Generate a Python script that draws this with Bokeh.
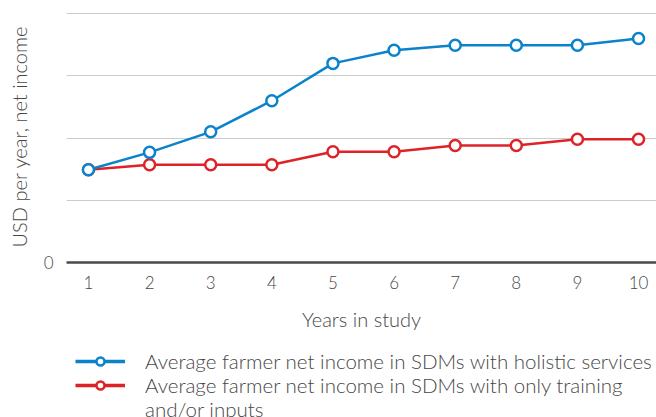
from bokeh.plotting import figure
from bokeh.models import Legend, LegendItem, Range1d, FixedTicker
from bokeh.layouts import column
from bokeh.embed import file_html
from bokeh.resources import INLINE

years = [1, 2, 3, 4, 5, 6, 7, 8, 9, 10]
holistic = [1.49, 1.77, 2.10, 2.60, 3.20, 3.41, 3.49, 3.49, 3.49, 3.60]
training = [1.49, 1.57, 1.57, 1.57, 1.78, 1.78, 1.88, 1.88, 1.98, 1.98]
y_ticks = [0, 1, 2, 3, 4]
y_tick_labels = {0: "0", 1: "", 2: "", 3: "", 4: ""}
series_names = ["Average farmer net income in SDMs with holistic services",
                "Average farmer net income in SDMs with only training",
                "and/or inputs"]

BLUE = "#0a83cc"
RED = "#dd2327"
FONT = "Lato Light"
TXT = "#474747"

p = figure(width=656, height=340, output_backend="svg", toolbar_location=None,
           x_range=Range1d(0.6406, 10.294), y_range=Range1d(0, 4.05),
           min_border_left=65, min_border_right=0, min_border_top=10, min_border_bottom=78)
p.outline_line_color = None

p.line(years, training, line_color=RED, line_width=2.5)
p.scatter(years, training, size=11, fill_color="white", line_color=RED, line_width=2.5)
p.line(years, holistic, line_color=BLUE, line_width=2.5)
p.scatter(years, holistic, size=11, fill_color="white", line_color=BLUE, line_width=2.5)

p.xaxis.ticker = FixedTicker(ticks=years)
p.yaxis.ticker = FixedTicker(ticks=y_ticks)
p.yaxis.major_label_overrides = y_tick_labels
p.xgrid.grid_line_color = None
p.ygrid.grid_line_color = "#cccccc"
p.ygrid.grid_line_width = 1

for ax in (p.xaxis, p.yaxis):
    ax.major_tick_line_color = None
    ax.minor_tick_line_color = None
    ax.major_tick_out = 0
    ax.major_tick_in = 0
    ax.minor_tick_out = 0
    ax.major_label_text_font = FONT
    ax.major_label_text_font_size = "17px"
    ax.major_label_text_color = TXT
    ax.axis_label_text_font = FONT
    ax.axis_label_text_font_size = "20px"
    ax.axis_label_text_font_style = "normal"
    ax.axis_label_text_color = TXT

p.xaxis.axis_line_color = "#4a4a4a"
p.xaxis.axis_line_width = 2.5
p.xaxis.major_label_standoff = 13
p.xaxis.axis_label = "Years in study"
p.xaxis.axis_label_standoff = 15
p.yaxis.axis_line_color = None
p.yaxis.major_label_standoff = 13
p.yaxis.axis_label = "USD per year, net income"
p.yaxis.axis_label_standoff = 10

# legend panel (separate figure; its series are drawn outside its visible range)
lg = figure(width=656, height=77, output_backend="svg", toolbar_location=None,
            x_range=Range1d(100, 101), y_range=Range1d(100, 101),
            min_border=0, min_border_left=66, min_border_right=0, min_border_top=0, min_border_bottom=0)
lg.axis.visible = False
lg.grid.visible = False
lg.outline_line_color = None
a1 = lg.line(years, holistic, line_color=BLUE, line_width=3.5)
b1 = lg.scatter(years, holistic, size=11, fill_color="white", line_color=BLUE, line_width=2.5)
a2 = lg.line(years, training, line_color=RED, line_width=3.5)
b2 = lg.scatter(years, training, size=11, fill_color="white", line_color=RED, line_width=2.5)

legend = Legend(items=[
    LegendItem(label=series_names[0], renderers=[a1, b1]),
    LegendItem(label=series_names[1], renderers=[a2, b2]),
    LegendItem(label=series_names[2], renderers=[]),
], location="top_left", orientation="vertical")
legend.label_text_font = FONT
legend.label_text_font_size = "20.5px"
legend.label_text_color = TXT
legend.label_height = 20
legend.glyph_height = 20
legend.glyph_width = 50
legend.label_standoff = 20
legend.border_line_color = None
legend.background_fill_alpha = 0
legend.spacing = 0
legend.margin = 9
legend.padding = 0
lg.add_layout(legend, "center")

open("out.html", "w").write(file_html(column(p, lg, spacing=0), INLINE))
